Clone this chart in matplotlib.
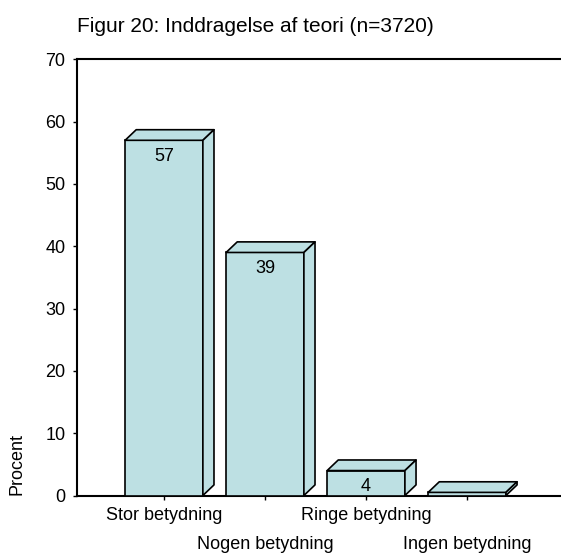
import matplotlib.pyplot as plt
from matplotlib.patches import Polygon

plt.rcParams['font.family'] = ['Liberation Sans', 'DejaVu Sans']

# Data
categories = ['Stor betydning', 'Nogen betydning', 'Ringe betydning', 'Ingen betydning']
values = [57, 39, 4, 0.5]
value_labels = ['57', '39', '4', '']
title = 'Figur 20: Inddragelse af teori (n=3720)'
ylabel = 'Procent'

face = '#bde0e3'
W, H = 561, 553
fig = plt.figure(figsize=(W / 100, H / 100), dpi=100)

# axes box in pixels
left, right, top, bottom = 76.7, 561, 59.3, 495.5
ax = fig.add_axes([left / W, 1 - bottom / H, (right - left) / W, (bottom - top) / H])

x = list(range(len(categories)))
width = 0.77
dx, dy = 0.11, 1.7  # depth of the 3d effect in data units

ax.bar(x, values, width=width, color=face, edgecolor='black', linewidth=1.2, zorder=3)
for xi, v in zip(x, values):
    x0, x1 = xi - width / 2, xi + width / 2
    top_face = [(x0, v), (x0 + dx, v + dy), (x1 + dx, v + dy), (x1, v)]
    side_face = [(x1, 0), (x1, v), (x1 + dx, v + dy), (x1 + dx, dy)]
    for pts in (top_face, side_face):
        ax.add_patch(Polygon(pts, closed=True, facecolor=face, edgecolor='black',
                             linewidth=1.2, zorder=3, joinstyle='round'))

for xi, v, lab in zip(x, values, value_labels):
    if lab:
        ax.text(xi, v - 1.2, lab, ha='center', va='top', fontsize=13, zorder=4)

ax.set_xlim(-0.864, 3.93)
ax.set_ylim(0, 70)
ax.set_yticks(range(0, 71, 10))

# staggered category labels: even ones on the first row, odd ones on the second
ax.set_xticks(x[0::2])
ax.set_xticklabels(categories[0::2], fontsize=13)
ax.set_xticks(x[1::2], minor=True)
ax.set_xticklabels(categories[1::2], minor=True, fontsize=13)
ax.tick_params(axis='y', labelsize=13, length=3, width=1, pad=5)
ax.tick_params(axis='x', which='major', length=3, width=1, pad=5)
ax.tick_params(axis='x', which='minor', length=3, width=1, pad=26)

for s in ('left', 'top', 'bottom'):
    ax.spines[s].set_linewidth(1.5)
ax.spines['right'].set_visible(False)

fig.text(77 / W, 1 - 27 / H, title, fontsize=15, ha='left', va='center')
fig.text(17 / W, 1 - 464 / H, ylabel, fontsize=13, rotation=90, ha='center', va='center')

fig.savefig('out.png', dpi=100)
